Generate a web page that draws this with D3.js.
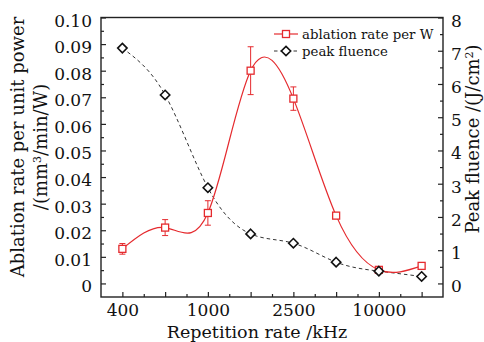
<!DOCTYPE html>
<html><head><meta charset="utf-8">
<script src="https://cdn.jsdelivr.net/npm/d3@7/dist/d3.min.js"></script>
<style>
html,body{margin:0;padding:0;background:#fff;}
svg{display:block;}
text{font-family:"DejaVu Serif",serif;fill:#111;}
</style></head>
<body>
<script>
// ---- data ----
const categories = ["400","600","1000","1600","2500","5000","10000","20000"];
const xTickLabels = ["400","","1000","","2500","","10000",""];
const ablationRate = [0.013,0.021,0.0265,0.080,0.0695,0.0255,0.0051,0.0066];
const ablationErr  = [0.002,0.003,0.0046,0.009,0.0044,0,0,0];
const peakFluence  = [7.08,5.67,2.88,1.49,1.21,0.64,0.37,0.21];
const leftTicks = [0,0.01,0.02,0.03,0.04,0.05,0.06,0.07,0.08,0.09,0.10];
const rightTicks = [0,1,2,3,4,5,6,7,8];
const seriesNames = ["ablation rate per W","peak fluence"];

const W=484,H=342;
const m={left:101,right:41,top:17.5,bottom:45};
const pw=W-m.left-m.right, ph=H-m.top-m.bottom;
const red="#e52a2e";

const svg=d3.select("body").append("svg").attr("width",W).attr("height",H);
const g=svg.append("g").attr("transform",`translate(${m.left},${m.top})`);

const x=d3.scalePoint().domain(categories).range([0,pw]).padding(0.5);
const yL=d3.scaleLinear().domain([-0.0051,0.10]).range([ph,0]);
const yR=d3.scaleLinear().domain([-0.408,8]).range([ph,0]);

// frame
g.append("rect").attr("x",0).attr("y",0).attr("width",pw).attr("height",ph)
 .attr("fill","none").attr("stroke","#222").attr("stroke-width",1.4);

// left axis (inward ticks)
const lAxis=g.append("g").call(d3.axisLeft(yL).tickValues(leftTicks).tickSize(-5).tickPadding(9)
  .tickFormat(d=>d===0?"0":d3.format(".2f")(d)));
const lMinor=g.append("g").call(d3.axisLeft(yL).tickValues(d3.range(0.005,0.1,0.01)).tickSize(-3).tickFormat(""));
// right axis
const rAxis=g.append("g").attr("transform",`translate(${pw},0)`)
  .call(d3.axisRight(yR).tickValues(rightTicks).tickSize(-5).tickPadding(8).tickFormat(d3.format("d")));
const rMinor=g.append("g").attr("transform",`translate(${pw},0)`)
  .call(d3.axisRight(yR).tickValues(d3.range(0.5,8,1)).tickSize(-3).tickFormat(""));
// bottom axis
const bAxis=g.append("g").attr("transform",`translate(0,${ph})`)
  .call(d3.axisBottom(x).tickSize(-5).tickPadding(7).tickFormat((d,i)=>xTickLabels[i]));
const halfSteps=categories.slice(0,-1).map((c,i)=>(x(c)+x(categories[i+1]))/2);
const bMinor=g.append("g").attr("transform",`translate(0,${ph})`)
  .call(d3.axisBottom(d3.scaleIdentity()).tickValues(halfSteps).tickSize(-3).tickFormat(""));

[lAxis,lMinor,rAxis,rMinor,bAxis,bMinor].forEach(a=>{
  a.select(".domain").remove();
  a.selectAll(".tick line").attr("stroke","#222").attr("stroke-width",1.2);
  a.selectAll("text").attr("font-size",17).attr("fill","#111").attr("font-family","DejaVu Serif");
});
lAxis.selectAll("text").attr("dy","0.5em");
rAxis.selectAll("text").attr("dy","0.5em");
bAxis.selectAll("text").attr("dy","0.7em");

// fluence dashed curve
const lineR=d3.line().x((d,i)=>x(categories[i])).y(d=>yR(d)).curve(d3.curveNatural);
g.append("path").datum(peakFluence).attr("d",lineR).attr("fill","none")
 .attr("stroke","#333").attr("stroke-width",1).attr("stroke-dasharray","3.5,3");

// ablation red curve
const lineL=d3.line().x((d,i)=>x(categories[i])).y(d=>yL(d)).curve(d3.curveNatural);
g.append("path").datum(ablationRate).attr("d",lineL).attr("fill","none")
 .attr("stroke",red).attr("stroke-width",1.2);

// error bars
const eb=g.append("g").attr("stroke",red).attr("stroke-width",1);
ablationRate.forEach((v,i)=>{
  const e=ablationErr[i]; if(!e) return;
  const cx=x(categories[i]);
  eb.append("line").attr("x1",cx).attr("x2",cx).attr("y1",yL(v-e)).attr("y2",yL(v+e));
  [v-e,v+e].forEach(t=>eb.append("line").attr("x1",cx-3).attr("x2",cx+3).attr("y1",yL(t)).attr("y2",yL(t)));
});

// markers
const sq=7;
g.selectAll(".sq").data(ablationRate).enter().append("rect")
 .attr("x",(d,i)=>x(categories[i])-sq/2).attr("y",d=>yL(d)-sq/2)
 .attr("width",sq).attr("height",sq).attr("fill","#fff").attr("stroke",red).attr("stroke-width",1.3);
const diamond=d3.symbol().type(d3.symbolDiamond2).size(56);
g.selectAll(".dm").data(peakFluence).enter().append("path")
 .attr("d",diamond).attr("transform",(d,i)=>`translate(${x(categories[i])},${yR(d)})`)
 .attr("fill","#fff").attr("stroke","#111").attr("stroke-width",1.6);

// legend
const lg=svg.append("g");
lg.append("line").attr("x1",274).attr("x2",298).attr("y1",34).attr("y2",34).attr("stroke",red).attr("stroke-width",1.2);
lg.append("rect").attr("x",286-3.5).attr("y",34-3.5).attr("width",7).attr("height",7).attr("fill","#fff").attr("stroke",red).attr("stroke-width",1.3);
lg.append("text").attr("x",302).attr("y",34).attr("dy","0.35em").attr("font-size",13.3).text(seriesNames[0]);
lg.append("line").attr("x1",274).attr("x2",298).attr("y1",51).attr("y2",51).attr("stroke","#333").attr("stroke-width",1).attr("stroke-dasharray","3.5,3");
lg.append("path").attr("d",diamond).attr("transform","translate(286,51)").attr("fill","#fff").attr("stroke","#111").attr("stroke-width",1.6);
lg.append("text").attr("x",302).attr("y",51).attr("dy","0.35em").attr("font-size",13.3).text(seriesNames[1]);

// axis titles
svg.append("text").attr("x",m.left+pw/2-15).attr("y",337.5).attr("text-anchor","middle")
 .attr("font-size",17.5).text("Repetition rate /kHz");
const lt=svg.append("text").attr("transform","translate(17.5,147) rotate(-90)").attr("text-anchor","middle")
 .attr("dy","0.35em").attr("font-size",18).text("Ablation rate per unit power");
const lt2=svg.append("text").attr("transform","translate(41,147) rotate(-90)").attr("text-anchor","middle")
 .attr("dy","0.35em").attr("font-size",18);
lt2.append("tspan").text("/(mm");
lt2.append("tspan").attr("baseline-shift","super").attr("font-size",11).text("3");
lt2.append("tspan").text("/min/W)");
const rt=svg.append("text").attr("transform","translate(473,139) rotate(-90)").attr("text-anchor","middle")
 .attr("dy","0.35em").attr("font-size",18);
rt.append("tspan").text("Peak fluence /(J/cm");
rt.append("tspan").attr("baseline-shift","super").attr("font-size",11).text("2");
rt.append("tspan").text(")");
</script>
</body></html>
